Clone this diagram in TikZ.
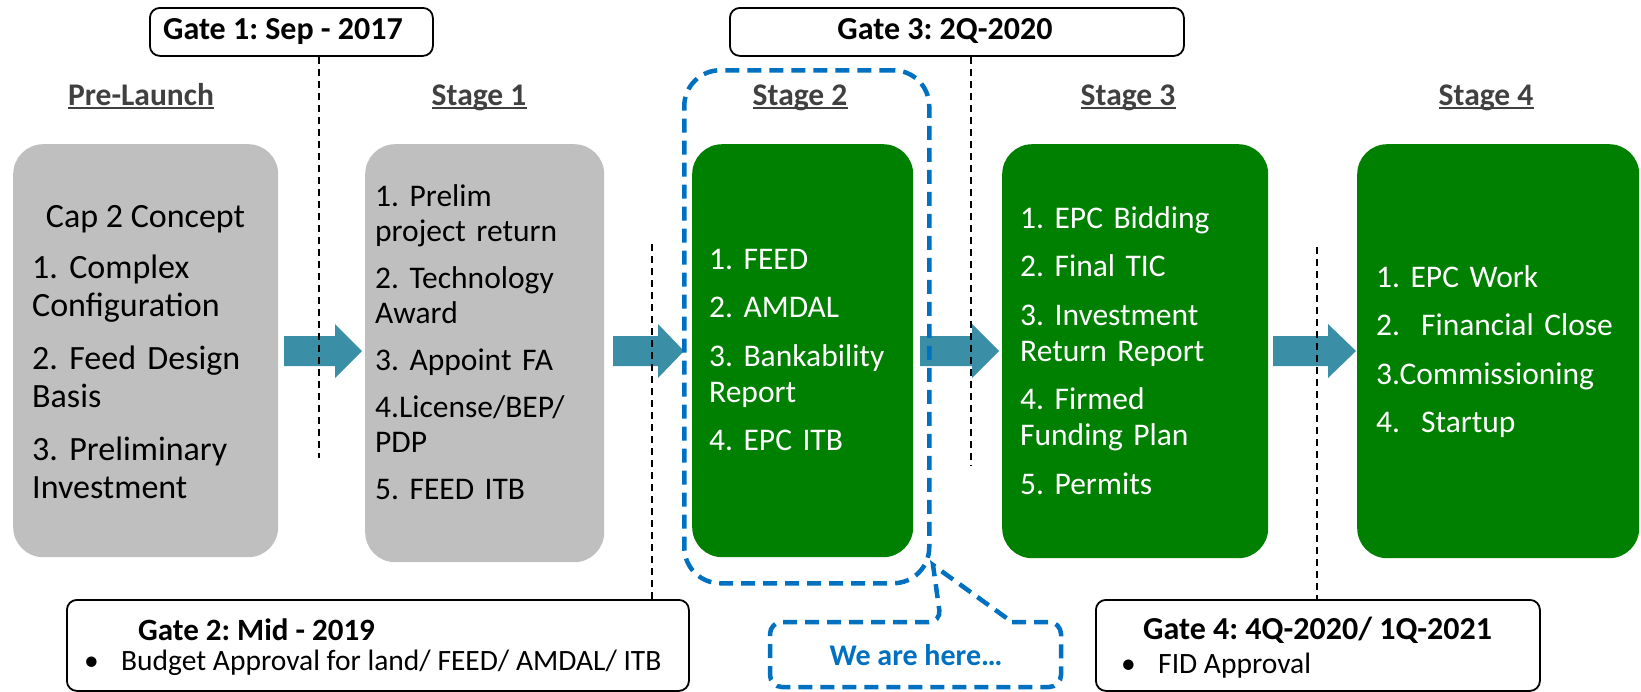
\documentclass[tikz,border=0pt]{standalone}
\usepackage{fontspec}
\setmainfont{Carlito}
\definecolor{boxgray}{HTML}{BFBFBF}
\definecolor{boxgreen}{HTML}{008000}
\definecolor{arrowteal}{HTML}{3A8FA6}
\definecolor{hereblue}{HTML}{0070C0}
\definecolor{labelgray}{HTML}{404040}
\newcommand{\fsz}[2]{\fontsize{#1}{#2}\selectfont}
\begin{document}
\frenchspacing
\begin{tikzpicture}[x=1pt,y=-1pt,
  stagebox/.style={rounded corners=30pt, inner sep=0pt, anchor=north west, draw=none},
  graybox/.style={stagebox, fill=boxgray},
  greenbox/.style={stagebox, fill=boxgreen},
  gatebox/.style={draw=black, line width=1.8pt, rounded corners=10pt, fill=white, inner sep=0pt, anchor=north west},
  stagelabel/.style={inner sep=0pt, anchor=base, font=\fsz{31.5}{36}\bfseries, text=labelgray},
  uline/.style={labelgray, line width=1.8pt},
  listtext/.style={inner sep=0pt, anchor=base west, align=left, text width=330pt},
  steptext/.style={listtext, font=\fsz{31.5}{36}},
  gatetitle/.style={inner sep=0pt, font=\fsz{32}{36}\bfseries},
  gateitem/.style={inner sep=0pt, anchor=base west, font=\fsz{29.5}{34}},
  gateline/.style={black, line width=1.5pt, dash pattern=on 7pt off 5pt},
  herestyle/.style={draw=hereblue, line width=4.5pt, dash pattern=on 14pt off 8pt},
  blockarrow/.style={fill=arrowteal, draw=none}
]
\useasboundingbox (0,0) rectangle (1641,691);

% stage boxes
\node[graybox, minimum width=265pt, minimum height=413pt] (pre) at (13,144) {};
\node[graybox, minimum width=239pt, minimum height=418pt] (s1) at (365,144) {};
\node[greenbox, minimum width=221pt, minimum height=413pt] (s2) at (692,144) {};
\node[greenbox, minimum width=266pt, minimum height=414pt] (s3) at (1002,144) {};
\node[greenbox, minimum width=282pt, minimum height=414pt] (s4) at (1357,144) {};

% stage headings
\node[stagelabel] (l0) at (141,105) {Pre-Launch};
\node[stagelabel] (l1) at (479,105) {Stage 1};
\node[stagelabel] (l2) at (800,105) {Stage 2};
\node[stagelabel] (l3) at (1128,105) {Stage 3};
\node[stagelabel] (l4) at (1486,105) {Stage 4};
\foreach \n in {l0,l1,l2,l3,l4}{
  \draw[uline] ([yshift=-3pt]\n.base west) -- ([yshift=-3pt]\n.base east);
}

% box texts
\node[inner sep=0pt, anchor=base, font=\fsz{34}{38}] (pret) at (145.5,227) {Cap 2 Concept};
\node[listtext, font=\fsz{34}{38}] (prel) at (32,278)
  {1. Complex\\Configuration\\[15pt]2. Feed Design\\Basis\\[15pt]3. Preliminary\\Investment};
\node[steptext, font=\fsz{31.5}{35}] (s1l) at (375,206)
  {1. Prelim\\project return\\[12pt]2. Technology\\Award\\[12pt]3. Appoint FA\\[12pt]4.License/BEP/\\PDP\\[12pt]5. FEED ITB};
\node[steptext, text=white] (s2l) at (709,269)
  {1. FEED\\[12.5pt]2. AMDAL\\[12.5pt]3. Bankability\\Report\\[12.5pt]4. EPC ITB};
\node[steptext, text=white] (s3l) at (1020,228)
  {1. EPC Bidding\\[12.5pt]2. Final TIC\\[12.5pt]3. Investment\\Return Report\\[12.5pt]4. Firmed\\Funding Plan\\[12.5pt]5. Permits};
\node[steptext, text=white] (s4l) at (1376,287)
  {1. EPC Work\\[12.5pt]2.~ Financial Close\\[12.5pt]3.Commissioning\\[12.5pt]4.~ Startup};

% block arrows
\fill[blockarrow] (284,336) -- (335,336) -- (335,324) -- (362,351) -- (335,378) -- (335,366) -- (284,366) -- cycle;
\fill[blockarrow] (613,336) -- (658,336) -- (658,324) -- (684,351) -- (658,378) -- (658,366) -- (613,366) -- cycle;
\fill[blockarrow] (920,336) -- (972,336) -- (972,324) -- (999,351) -- (972,378) -- (972,366) -- (920,366) -- cycle;
\fill[blockarrow] (1273,336) -- (1328,336) -- (1328,324) -- (1356,351) -- (1328,378) -- (1328,366) -- (1273,366) -- cycle;

% gate boxes
\node[gatebox, minimum width=283pt, minimum height=48pt] (g1) at (149,7) {};
\node[gatebox, minimum width=454pt, minimum height=48pt] (g3) at (729,7) {};
\node[gatebox, minimum width=622pt, minimum height=91pt] (g2) at (66,599) {};
\node[gatebox, minimum width=444pt, minimum height=91pt] (g4) at (1095,599) {};

\node[gatetitle, anchor=base] (g1t) at (283,39) {Gate 1: Sep - 2017};
\node[gatetitle, anchor=base] (g3t) at (945,39) {Gate 3: 2Q-2020};
\node[gatetitle, anchor=base west, font=\fsz{31}{36}\bfseries] (g2t) at (138,640) {Gate 2: Mid - 2019};
\node[gateitem] (g2b) at (84,670) {•};
\node[gateitem] (g2i) at (121,670) {Budget Approval for land/ FEED/ AMDAL/ ITB};
\node[gatetitle, anchor=base west] (g4t) at (1143,639) {Gate 4: 4Q-2020/ 1Q-2021};
\node[gateitem] (g4b) at (1121,673) {•};
\node[gateitem] (g4i) at (1158,673) {FID Approval};

% gate dashed lines
\coordinate (g1end) at (319,458);
\coordinate (g3end) at (971,465);
\coordinate (g2top) at (652,244);
\coordinate (g4top) at (1317,247);
\draw[gateline] (g1.south -| g1end) -- (g1end);
\draw[gateline] (g3.south -| g3end) -- (g3end);
\draw[gateline] (g2top) -- (g2.north -| g2top);
\draw[gateline] (g4top) -- (g4.north -| g4top);

% we are here
\node[herestyle, rounded corners=36pt, inner sep=0pt, anchor=north west, minimum width=245pt, minimum height=513pt] (here) at (682,68) {};
\coordinate (apex) at (933,565);
\coordinate (tl) at (941,622);
\coordinate (tr) at (1012,622);
\draw[herestyle] (tr) [rounded corners=12pt] -- (1061,622) -- (1061,687) -- (770,687) -- (770,622) -- (tl) [sharp corners] -- (apex) -- cycle;
\node[inner sep=0pt, anchor=base, font=\fsz{30}{34}\bfseries, text=hereblue] (weare) at (916,665) {We are here…};
\end{tikzpicture}
\end{document}
